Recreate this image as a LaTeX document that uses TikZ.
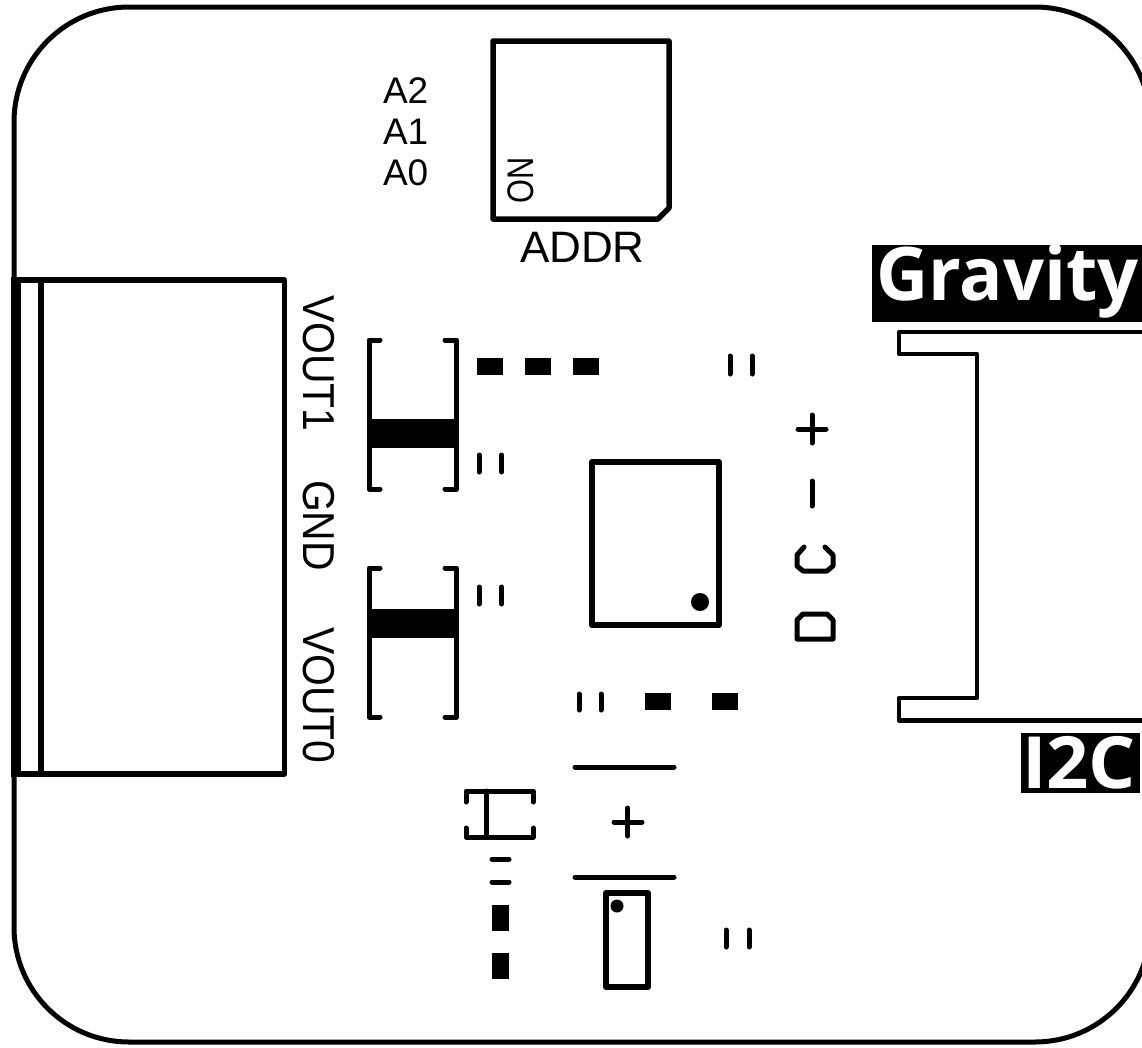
\documentclass[tikz,border=0pt]{standalone}
\usepackage{fontspec}
\setmainfont{Liberation Sans}
\newfontfamily\tallfont{Liberation Sans}[FakeStretch=0.915]
\newfontfamily\onfont{Liberation Sans}[FakeStretch=0.83]
\newfontfamily\logofont{Open Sans}[BoldFont={Open Sans Bold},BoldFeatures={FakeStretch=0.975}]
\newfontfamily\busfont{Open Sans}[BoldFont={Open Sans Bold},BoldFeatures={FakeStretch=1.03}]
\tikzset{
  silk/.style={line width=5pt,line cap=round,line join=round,draw=black},
  body/.style={line width=5.5pt,line join=round,line cap=round,draw=black},
  thin/.style={line width=4.3pt,line join=round,line cap=round,draw=black},
  lab/.style={inner sep=0pt,outer sep=0pt,anchor=base west,text=black},
  logo/.style={inner sep=0pt,outer sep=0pt,anchor=base west,text=white},
}
\begin{document}
\begin{tikzpicture}[x=1pt,y=-1pt]
\useasboundingbox (0,0) rectangle (1142,1047);
\clip (0,0) rectangle (1142,1047);
\fill[white] (0,0) rectangle (1142,1047);
% board
\draw[line width=5pt,rounded corners=115pt] (14,7) rectangle (1150,1042);
% terminal connector
\fill (11,277) rectangle (21,777);
\draw[body] (21,280) -- (284.5,280) -- (284.5,774) -- (21,774);
\fill (37.5,280) rectangle (43.5,774);
\node[lab,rotate=-90,font=\tallfont\fontsize{44.7}{44.7}\selectfont] (vouta) at (303,295) {VOUT1};
\node[lab,rotate=-90,font=\tallfont\fontsize{44.7}{44.7}\selectfont] (gnd) at (303,480) {GND};
\node[lab,rotate=-90,font=\tallfont\fontsize{44.7}{44.7}\selectfont] (voutb) at (303,627) {VOUT0};
% address switch
\draw[body] (493,41) -- (669,41) -- (669,208) -- (658,219) -- (493,219) -- cycle;
\node[lab,rotate=90,font=\onfont\fontsize{37}{37}\selectfont] (on) at (533,203) {ON};
\node[lab,font=\fontsize{37}{37}\selectfont] (atwo) at (383,103) {A2};
\node[lab,font=\fontsize{37}{37}\selectfont] (aone) at (383,144) {A1};
\node[lab,font=\fontsize{37}{37}\selectfont] (azero) at (383,185) {A0};
\node[lab,font=\fontsize{44}{44}\selectfont] (addr) at (520,262) {ADDR};
% upper part
\draw[silk] (380,340) -- (369,340) -- (369,489) -- (380,489);
\draw[silk] (445,340) -- (456.5,340) -- (456.5,489) -- (445,489);
\fill (366.5,419) rectangle (459,448);
\fill (477,358) rectangle (503,375);
\fill (525,358) rectangle (551,375);
\fill (573,358) rectangle (599,375);
\foreach \x in {479,501.5} \draw[silk] (\x,455) -- (\x,472);
\foreach \x in {730,752} \draw[silk] (\x,356) -- (\x,374);
% lower part
\draw[silk] (380,568) -- (369,568) -- (369,717) -- (380,717);
\draw[silk] (445,568) -- (456.5,568) -- (456.5,717) -- (445,717);
\fill (366.5,609) rectangle (459,638);
\foreach \x in {479,501.5} \draw[silk] (\x,587) -- (\x,604);
% chip
\draw[body,line width=6pt] (592,462) rectangle (719,625);
\fill (700,602) circle[radius=9];
% DC-+
\draw[silk] (798,429) -- (826,429) (812,415) -- (812,443);
\draw[silk] (812,481) -- (812,506);
\draw[silk] (804,547) -- (797,555) -- (797,566) -- (803,571) -- (827,571) -- (833,566) -- (833,555) -- (825,547);
\draw[silk] (797,639) -- (797,620) -- (803,614) -- (827,614) -- (833,620) -- (833,639) -- cycle;
% Gravity connector
\draw[thin] (1150,332) -- (899,332) -- (899,354) -- (977,354) -- (977,698) -- (899,698) -- (899,720.5) -- (1150,720.5);
\fill (872,245) rectangle (1142,322);
\node[logo,font=\logofont\bfseries\fontsize{74}{74}\selectfont] (gravity) at (876,300) {Gravity};
\fill (1021,733) rectangle (1140,793);
\node[logo,font=\busfont\bfseries\fontsize{72}{72}\selectfont] (itc) at (1022,788) {I2C};
% bottom centre
\foreach \x in {579,601} \draw[silk] (\x,694) -- (\x,710);
\fill (645,693) rectangle (671,710);
\fill (712,693) rectangle (738,710);
\draw[silk] (575,767) -- (674,767);
\draw[silk] (575,877) -- (674,877);
\draw[silk] (614,822) -- (642,822) (627.5,808) -- (627.5,836);
\draw[silk] (466,802) -- (466,791) -- (533,791) -- (533,802);
\draw[silk] (466,828) -- (466,837) -- (533,837) -- (533,828);
\draw[silk] (486,791) -- (486,837);
\draw[silk] (492,859) -- (509,859);
\draw[silk] (492,882) -- (509,882);
\fill (492,905) rectangle (509,931);
\fill (492,953) rectangle (509,979);
\draw[body,line width=6pt] (606,893) rectangle (648,987);
\fill (617,906) circle[radius=6.5];
\foreach \x in {726,749} \draw[silk] (\x,930) -- (\x,947);
\end{tikzpicture}
\end{document}
